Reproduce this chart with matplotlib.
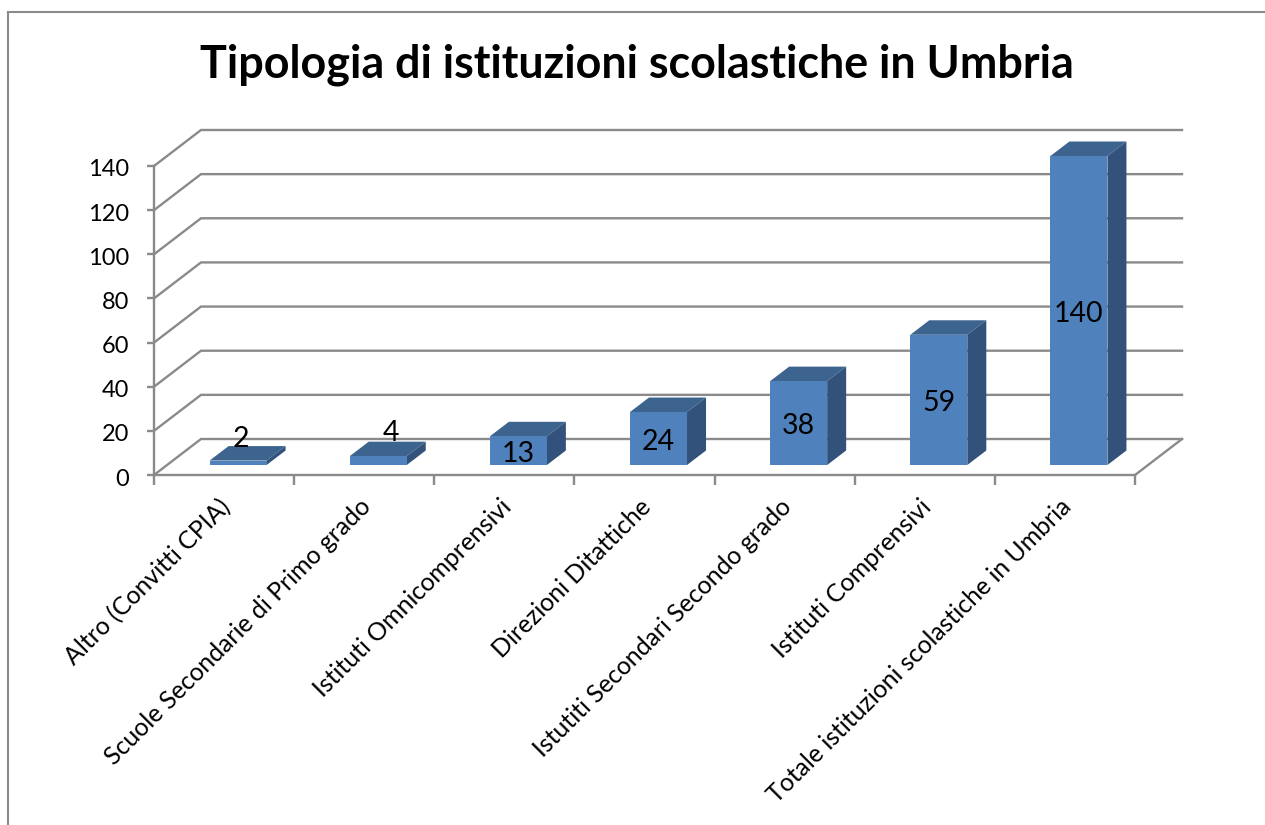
import matplotlib
matplotlib.use('Agg')
import matplotlib.pyplot as plt
from matplotlib.lines import Line2D
from matplotlib.patches import Polygon
from matplotlib.transforms import Affine2D

W, H = 1265, 825

categories = ['Altro (Convitti CPIA)', 'Scuole Secondarie di Primo grado',
              'Istituti Omnicomprensivi', 'Direzioni Ditattiche',
              'Istutiti Secondari Secondo grado', 'Istituti Comprensivi',
              'Totale istituzioni scolastiche in Umbria']
values = [2, 4, 13, 24, 38, 59, 140]
yticks = [0, 20, 40, 60, 80, 100, 120, 140]

# the two small bars have their labels moved by hand in the original
label_shift_x = [0.02, 0.09, 0, 0, 0, 0, 0]
label_shift_y = [12.0, 14.0, 0, 0, 0, 0, 0]

plt.rcParams['font.family'] = ['Lato', 'DejaVu Sans']
GREY = '#8a8a8a'
FRONT, TOP, SIDE = '#4f81bd', '#3c648f', '#32527c'

fig = plt.figure(figsize=(W / 100, H / 100), dpi=100)
ax = fig.add_axes([154 / W, (H - 475) / H, 981 / W, 309 / H])
ax.set_xlim(0, len(values))
ax.set_ylim(0, 140)
ax.patch.set_visible(False)

# 3d look, all in data units
wall_dx, wall_dy = 47 / 140.1, 36 / 2.207
base_dx, base_dy = 14 / 140.1, 10 / 2.207
depth_dx, depth_dy = 19 / 140.1, 14.5 / 2.207
bar_w = 57 / 140.1

for t in yticks:
    ax.plot([0, wall_dx, len(values) + wall_dx], [t, t + wall_dy, t + wall_dy],
            color=GREY, lw=1.7, clip_on=False, zorder=1, solid_joinstyle='miter')
ax.plot([len(values), len(values) + wall_dx], [0, wall_dy], color=GREY, lw=1.7,
        clip_on=False, zorder=1)

for i, v in enumerate(values):
    x0 = i + 0.5 + base_dx - bar_w / 2
    x1 = x0 + bar_w
    y0 = base_dy
    y1 = y0 + v
    ax.add_patch(Polygon([(x0, y1), (x1, y1), (x1 + depth_dx, y1 + depth_dy),
                          (x0 + depth_dx, y1 + depth_dy)],
                         fc=TOP, ec='none', clip_on=False, zorder=3))
    ax.add_patch(Polygon([(x1, y0), (x1 + depth_dx, y0 + depth_dy),
                          (x1 + depth_dx, y1 + depth_dy), (x1, y1)],
                         fc=SIDE, ec='none', clip_on=False, zorder=3))
    ax.bar(x0 + bar_w / 2, v, width=bar_w, bottom=y0, color=FRONT,
           clip_on=False, zorder=4)
    ax.text(x0 + bar_w / 2 + label_shift_x[i], y0 + v / 2 + label_shift_y[i] - 1.4, str(v),
            ha='center', va='center', fontsize=20.5, color='black', zorder=5)

for s in ['top', 'right']:
    ax.spines[s].set_visible(False)
for s in ['left', 'bottom']:
    ax.spines[s].set_color(GREY)
    ax.spines[s].set_linewidth(1.7)
    ax.spines[s].set_zorder(2)

ax.set_yticks(yticks)
ax.set_xticks(range(len(values) + 1))
ax.set_xticklabels([])
ax.tick_params(axis='y', length=5, width=1.7, color=GREY, labelsize=17, pad=13)
ax.tick_params(axis='x', length=7, width=1.7, color=GREY)
for lab in ax.get_yticklabels():
    lab.set_transform(lab.get_transform() + Affine2D().translate(0, -2))

for i, name in enumerate(categories):
    ax.annotate(name, xy=(i + 0.5, 0), xycoords='data', xytext=(3, -28),
                textcoords='offset pixels', rotation=45, rotation_mode='anchor',
                ha='right', va='center', fontsize=17.9)

fig.text(637 / W, 1 - 65 / H, 'Tipologia di istituzioni scolastiche in Umbria',
         ha='center', va='center', fontsize=32.3, fontweight='bold')

fig.add_artist(Line2D([8 / W, 8 / W, 1], [0, 1 - 12 / H, 1 - 12 / H], color=GREY,
                      lw=1.5, solid_joinstyle='miter'))

fig.savefig('out.png', dpi=100)
plt.close(fig)
